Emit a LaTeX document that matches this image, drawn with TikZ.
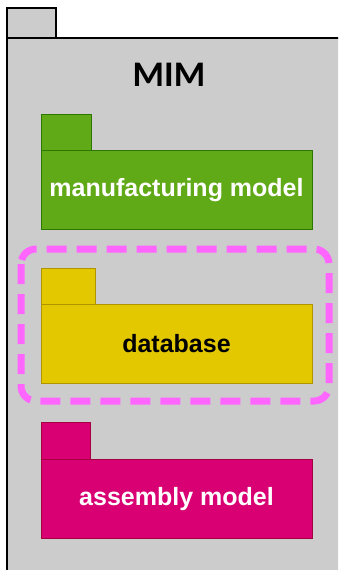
\documentclass[tikz,border=0pt]{standalone}
\usepackage{fontspec}
\setmainfont{Liberation Sans}
\newfontfamily\mimfont{Carlito}
\definecolor{pkggray}{HTML}{CCCCCC}
\definecolor{mfgfill}{HTML}{60A917}
\definecolor{mfgline}{HTML}{2D7600}
\definecolor{dbfill}{HTML}{E3C800}
\definecolor{dbline}{HTML}{B09500}
\definecolor{asmfill}{HTML}{D80073}
\definecolor{asmline}{HTML}{A50040}
\definecolor{selpink}{HTML}{FF66FF}
\tikzset{
  pkgbody/.style={draw, line width=1pt, minimum width=271pt, minimum height=79pt,
    inner sep=0pt, outer sep=0pt, font=\fontsize{25}{28}\selectfont\bfseries},
  pkgtab/.style={draw, line width=1pt}
}
\begin{document}
\begin{tikzpicture}[x=1pt,y=-1pt]
                    \useasboundingbox (0,0) rectangle (338,570);
                    \clip (0,0) rectangle (338,570);

                    % Drawing package MIM
                    \draw [fill=pkggray, line width=1.3pt] (7,8) rectangle (56,38);%
                    \draw [fill=pkggray, line width=1.3pt] (7,38) rectangle (360,600);%
                    \node (mim) at (169,75) {\mimfont\fontsize{36}{40}\selectfont\bfseries MIM};%

                    % Drawing package manufacturing model
                    \node [pkgbody, fill=mfgfill, draw=mfgline, text=white] (mfg) at (176.5,190) {manufacturing model};%
                    \draw [pkgtab, fill=mfgfill, draw=mfgline] (mfg.north west) rectangle ++(50,-36);%

                    % Marking selection round database
                    \draw [selpink, line width=7pt, dash pattern=on 20pt off 10pt, rounded corners=15pt] (21,249) rectangle (329,401);%

                    % Drawing package database
                    \node [pkgbody, fill=dbfill, draw=dbline, text=black] (db) at (176.5,344) {database};%
                    \draw [pkgtab, fill=dbfill, draw=dbline] (db.north west) rectangle ++(54,-36);%

                    % Drawing package assembly model
                    \node [pkgbody, fill=asmfill, draw=asmline, text=white] (asm) at (176.5,499) {assembly model};%
                    \draw [pkgtab, fill=asmfill, draw=asmline] (asm.north west) rectangle ++(49,-37);%
\end{tikzpicture}
\end{document}
